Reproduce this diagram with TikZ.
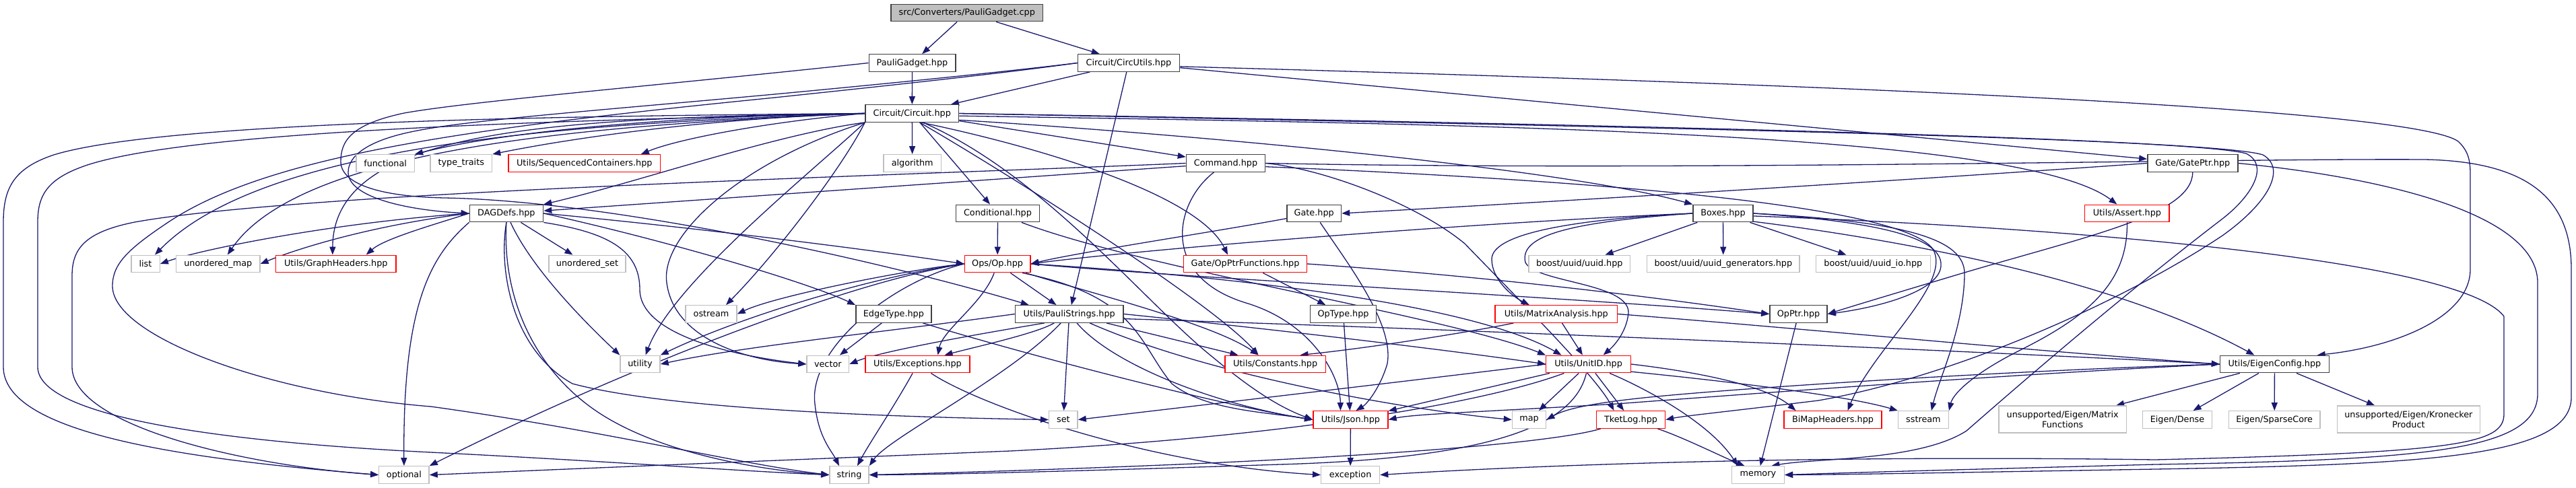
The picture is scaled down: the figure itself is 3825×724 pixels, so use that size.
\documentclass[tikz,border=0pt]{standalone}
\usepackage{fontspec}
\newfontfamily\nf{DejaVu Sans}
\usetikzlibrary{arrows.meta}
\definecolor{edgec}{HTML}{191970}
\definecolor{bdc}{HTML}{404040}
\definecolor{grc}{HTML}{BFBFBF}
\definecolor{rdc}{HTML}{FF0000}
\pgfdeclarelayer{edges}
\pgfsetlayers{edges,main}
\tikzset{
  nd/.style={draw=bdc, line width=1.4pt, fill=white, inner sep=0pt, minimum height=25.5pt,
    font=\nf\fontsize{12.8}{15}\selectfont, text=black, align=center},
  sys/.style={nd, draw=grc},
  trunc/.style={nd, draw=rdc},
  root/.style={nd, fill=grc},
  e/.style={draw=edgec, line width=1.3pt, -{Triangle[length=12pt,width=9pt]}},
}
\begin{document}
\begin{tikzpicture}[x=1pt,y=-1pt]
\useasboundingbox (0,0) rectangle (3825,724);
\node[root,minimum width=225.8pt] (cpp) at (1435.8,19) {src/Converters/PauliGadget.cpp};
\node[nd,minimum width=128.6pt] (pgh) at (1354.5,93.5) {PauliGadget.hpp};
\node[nd,minimum width=151.1pt] (cu) at (1676,93.5) {Circuit/CircUtils.hpp};
\node[nd,minimum width=138.8pt] (circ) at (1354.3,168.5) {Circuit/Circuit.hpp};
\node[sys,minimum width=86.6pt] (functional) at (572.1,242.5) {functional};
\node[sys,minimum width=91.6pt] (typetraits) at (684.8,242.5) {type\_traits};
\node[trunc,minimum width=225.4pt] (seqc) at (867.8,242.5) {Utils/SequencedContainers.hpp};
\node[sys,minimum width=85.8pt] (algorithm) at (1354.7,242.5) {algorithm};
\node[nd,minimum width=117.2pt] (cmd) at (1820,242.5) {Command.hpp};
\node[nd,minimum width=134pt] (gateptr) at (3255.8,242.5) {Gate/GatePtr.hpp};
\node[nd,minimum width=109.4pt] (dag) at (751.9,317) {DAGDefs.hpp};
\node[nd,minimum width=123.8pt] (cond) at (1481.5,317) {Conditional.hpp};
\node[nd,minimum width=80.6pt] (gate) at (1951.2,317) {Gate.hpp};
\node[nd,minimum width=89pt] (boxes) at (2558.5,317) {Boxes.hpp};
\node[trunc,minimum width=125.3pt] (assert) at (3158.4,317) {Utils/Assert.hpp};
\node[sys,minimum width=42.4pt] (list) at (216,392) {list};
\node[sys,minimum width=124.2pt] (umap) at (323.8,392) {unordered\_map};
\node[trunc,minimum width=178.4pt] (graphh) at (498.8,392) {Utils/GraphHeaders.hpp};
\node[sys,minimum width=114.3pt] (uset) at (872,392) {unordered\_set};
\node[trunc,minimum width=97.6pt] (op) at (1481.1,392) {Ops/Op.hpp};
\node[trunc,minimum width=182.7pt] (opptrf) at (1849,392) {Gate/OpPtrFunctions.hpp};
\node[sys,minimum width=150.7pt] (uuid) at (2345.3,392) {boost/uuid/uuid.hpp};
\node[sys,minimum width=226.5pt] (uuidgen) at (2558.8,392) {boost/uuid/uuid\_generators.hpp};
\node[sys,minimum width=169.8pt] (uuidio) at (2781.3,392) {boost/uuid/uuid\_io.hpp};
\node[sys,minimum width=76pt] (ostream) at (1056,466.5) {ostream};
\node[nd,minimum width=112.1pt] (edgetype) at (1326.9,466.5) {EdgeType.hpp};
\node[nd,minimum width=160.5pt] (paulis) at (1587.7,466.5) {Utils/PauliStrings.hpp};
\node[nd,minimum width=98.4pt] (optype) at (1994.5,466.5) {OpType.hpp};
\node[trunc,minimum width=181.3pt] (matrix) at (2310.8,466.5) {Utils/MatrixAnalysis.hpp};
\node[nd,minimum width=85.3pt] (opptr) at (2670.5,466.5) {OpPtr.hpp};
\node[sys,minimum width=59pt] (utility) at (950.5,541) {utility};
\node[sys,minimum width=62.6pt] (vector) at (1229.3,541) {vector};
\node[trunc,minimum width=155pt] (exc) at (1362.5,541) {Utils/Exceptions.hpp};
\node[trunc,minimum width=149.2pt] (const) at (1893.6,541) {Utils/Constants.hpp};
\node[trunc,minimum width=125.7pt] (unitid) at (2358.6,541) {Utils/UnitID.hpp};
\node[nd,minimum width=161.8pt] (eigen) at (3377.4,541) {Utils/EigenConfig.hpp};
\node[sys,minimum width=42.4pt] (set) at (1578.9,623.5) {set};
\node[trunc,minimum width=111.1pt] (json) at (2005.4,623.5) {Utils/Json.hpp};
\node[sys,minimum width=50.3pt] (map) at (2270.6,623.5) {map};
\node[trunc,minimum width=102.1pt] (tketlog) at (2421.5,623.5) {TketLog.hpp};
\node[trunc,minimum width=145pt] (bimap) at (2721.5,623.5) {BiMapHeaders.hpp};
\node[sys,minimum width=74.7pt] (sstream) at (2855.9,623.5) {sstream};
\node[sys,minimum width=189.5pt,minimum height=40pt] (matfun) at (3062.7,623) {unsupported/Eigen/Matrix\\Functions};
\node[sys,minimum width=103pt] (dense) at (3233,623.5) {Eigen/Dense};
\node[sys,minimum width=135.9pt] (sparse) at (3377.2,623.5) {Eigen/SparseCore};
\node[sys,minimum width=212.1pt,minimum height=40pt] (kron) at (3576.3,623) {unsupported/Eigen/Kronecker\\Product};
\node[sys,minimum width=74.3pt] (optional) at (599.9,705.5) {optional};
\node[sys,minimum width=58.2pt] (string) at (1261,705.5) {string};
\node[sys,minimum width=87pt] (exception) at (2005.1,705.5) {exception};
\node[sys,minimum width=78pt] (memory) at (2610.4,705.5) {memory};

\begin{pgfonlayer}{edges}
% top
\draw[e] (cpp) -- (pgh);
\draw[e] (cpp) -- (cu);
\draw[e] (pgh) -- (circ);
\draw[e] (cu) -- (circ);
\draw[e] (cu) -- (paulis);
\draw[e] (cu) -- (gateptr);
\draw[e] (cu.-4) .. controls (2700,125) and (3580,160) .. (3650,210) .. controls (3666,225) and (3668,240) .. (3668,260) -- (3668,400) .. controls (3668,470) and (3560,515) .. (eigen.12);
\draw[e] (pgh.west) .. controls (1000,125) and (700,150) .. (600,168) .. controls (520,185) and (506,210) .. (506,240) .. controls (506,272) and (560,292) .. (660,294) .. controls (900,298) and (1300,385) .. ([xshift=-60]paulis.north);
\draw[e] (cu.west) .. controls (1480,108) and (1320,124) .. (1150,140) .. controls (900,163) and (700,178) .. (620,194) .. controls (545,208) and (517,232) .. (517,256) .. controls (517,292) and (600,312) .. (dag.west);
\draw[e] (cu.west) .. controls (1480,110) and (1320,127) .. (1150,145) .. controls (700,190) and (400,230) .. (250,330) .. controls (190,370) and (167,392) .. (167,425) .. controls (167,500) and (400,585) .. (640,604) .. controls (900,640) and (1100,690) .. (string.west);
% circuit
\draw[e] (circ) -- (algorithm);
\draw[e] (circ) -- (cmd);
\draw[e] (circ) -- (cond);
\draw[e] (circ.west) .. controls (1000,172) and (750,195) .. (functional.north east);
\draw[e] (circ.west) .. controls (1050,176) and (850,205) .. (typetraits.north east);
\draw[e] (circ.west) .. controls (1150,180) and (1010,205) .. ([xshift=84]seqc.north);
\draw[e] (circ.south west) .. controls (1150,200) and (950,270) .. (dag.north east);
\draw[e] (circ.west) .. controls (900,182) and (400,205) .. ([xshift=14]list.north);
\draw[e] (circ.west) .. controls (900,185) and (450,215) .. ([xshift=14]umap.north);
\draw[e] (circ.west) .. controls (800,175) and (495,195) .. ([xshift=-5]graphh.north);
\draw[e] (circ.west) .. controls (900,172) and (250,178) .. (80,230) .. controls (20,250) and (5,280) .. (5,330) -- (5,545) .. controls (5,640) and (250,680) .. (optional.west);
\draw[e] (circ.west) .. controls (900,178) and (300,190) .. (130,245) .. controls (70,265) and (56,290) .. (56,330) -- (56,545) .. controls (56,615) and (300,655) .. (640,672) .. controls (900,685) and (1100,700) .. (string.west);
\draw[e] (circ.south west) .. controls (1200,260) and (1000,420) .. ([xshift=8]utility.north);
\draw[e] (circ.south west) .. controls (1250,250) and (1150,380) .. ([xshift=22]ostream.north);
\draw[e] (circ.south west) .. controls (1100,240) and (980,350) .. (990,420) .. controls (1000,500) and (1100,535) .. (vector.west);
\draw[e] (circ.-45) .. controls (1550,220) and (1780,290) .. ([xshift=-26]opptrf.north);
\draw[e] (circ.-50) .. controls (1500,260) and (1800,450) .. ([xshift=-25]const.north);
\draw[e] (circ.-40) .. controls (1550,260) and (1700,450) .. (1800,530) .. controls (1860,580) and (1900,605) .. (json.west);
\draw[e] (circ.-8) .. controls (1700,195) and (2300,245) .. (boxes.north west);
\draw[e] (circ.-3) .. controls (2200,185) and (3000,195) .. ([xshift=-15]assert.north);
\draw[e] (circ.east) .. controls (2400,185) and (3250,205) .. (3335,228) .. controls (3370,245) and (3345,290) .. (3300,325) .. controls (3150,440) and (3000,570) .. (2920,640) .. controls (2850,685) and (2700,680) .. ([xshift=20]memory.north);
\draw[e] (circ.east) .. controls (2400,188) and (3280,205) .. (3360,230) .. controls (3395,250) and (3370,300) .. (3300,350) .. controls (3150,450) and (2900,560) .. (2700,595) .. controls (2560,612) and (2500,618) .. (tketlog.east);
% command
\draw[e] (cmd) -- (dag);
\draw[e] (cmd.west) .. controls (1300,262) and (450,285) .. (200,330) .. controls (125,345) and (107,370) .. (107,410) -- (107,545) .. controls (107,630) and (350,690) .. (optional.west);
\draw[e] (cmd) .. controls (1745,300) and (1720,410) .. (1850,450) .. controls (1950,480) and (1990,560) .. ([xshift=-15]json.north);
\draw[e] (cmd.east) .. controls (1960,250) and (2100,300) .. (2175,362) .. controls (2260,450) and (2370,560) .. ([xshift=-25]tketlog.north);
\draw[e] (cmd.east) .. controls (2500,255) and (3300,235) .. (3600,237) .. controls (3760,240) and (3818,300) .. (3818,400) -- (3818,590) .. controls (3818,680) and (3600,690) .. (3200,697) .. controls (2900,702) and (2750,705) .. (memory.east);
\draw[e] (cmd.-5) .. controls (2300,265) and (2820,300) .. (2870,370) .. controls (2900,420) and (2780,520) .. ([xshift=22]bimap.north);
% conditional, gate, gateptr
\draw[e] (cond) -- (op);
\draw[e] (cond) .. controls (1700,400) and (2150,470) .. (unitid.north west);
\draw[e] (gate) .. controls (1800,345) and (1600,375) .. (op.east);
\draw[e] (gate) .. controls (2000,390) and (2070,480) .. (2060,540) .. controls (2050,575) and (2030,600) .. ([xshift=8]json.north);
\draw[e] (gateptr.west) .. controls (2800,270) and (2300,300) .. (gate.east);
\draw[e] (gateptr.south) .. controls (3255,320) and (3100,350) .. (2900,410) .. controls (2800,440) and (2750,455) .. (opptr.east);
\draw[e] (gateptr.east) .. controls (3550,265) and (3768,320) .. (3768,420) -- (3768,585) .. controls (3768,670) and (3600,683) .. (3200,690) .. controls (2900,698) and (2750,702) .. (memory.east);
% boxes
\draw[e] (boxes.west) .. controls (2200,330) and (1700,370) .. (op.east);
\draw[e] (boxes) -- (uuid);
\draw[e] (boxes) -- (uuidgen);
\draw[e] (boxes) -- (uuidio);
\draw[e] (boxes.west) .. controls (2350,325) and (2215,345) .. (2215,385) .. controls (2215,415) and (2245,440) .. ([xshift=-40]matrix.north);
\draw[e] (boxes.west) .. controls (2330,330) and (2255,350) .. (2265,390) .. controls (2280,420) and (2420,420) .. (2418,465) .. controls (2415,495) and (2395,515) .. ([xshift=22]unitid.north);
\draw[e] (boxes.east) .. controls (2800,330) and (2885,355) .. (2882,395) .. controls (2880,430) and (2800,455) .. (opptr.east);
\draw[e] (boxes.east) .. controls (2850,330) and (2920,360) .. (2917,410) .. controls (2915,490) and (2880,560) .. ([xshift=12]sstream.north);
\draw[e] (boxes.-15) .. controls (2850,360) and (3150,420) .. ([xshift=-30]eigen.north);
\draw[e] (boxes.-5) .. controls (3000,335) and (3650,380) .. (3718,470) -- (3718,615) .. controls (3718,660) and (3650,672) .. (3200,683) .. controls (2700,676) and (2300,690) .. (exception.east);
\draw[e] (assert.south) .. controls (3160,420) and (3100,470) .. (3000,520) .. controls (2930,555) and (2900,585) .. (sstream.north east);
% dag
\draw[e] (dag.west) .. controls (500,330) and (300,370) .. (list.east);
\draw[e] (dag.west) .. controls (550,335) and (440,370) .. (umap.east);
\draw[e] (dag.west) .. controls (640,335) and (570,355) .. ([xshift=45]graphh.north);
\draw[e] (dag) -- (uset);
\draw[e] (dag) .. controls (790,400) and (870,480) .. (utility.north west);
\draw[e] (dag.south east) .. controls (900,345) and (950,370) .. (950,430) .. controls (950,500) and (1100,530) .. (vector.west);
\draw[e] (dag.south) .. controls (740,400) and (760,520) .. (850,570) .. controls (1000,610) and (1350,620) .. (set.west);
\draw[e] (dag.south) .. controls (745,450) and (800,560) .. (900,620) .. controls (1000,680) and (1150,700) .. (string.west);
\draw[e] (dag.south west) .. controls (640,380) and (598,450) .. (optional.north);
\draw[e] (dag.east) .. controls (1000,360) and (1200,420) .. (edgetype.north west);
\draw[e] (dag.east) .. controls (1000,335) and (1250,365) .. (op.west);
\draw[e] (edgetype) -- (vector);
\draw[e] (edgetype) .. controls (1500,520) and (1800,600) .. (json.west);
% op
\draw[e] (op) -- (paulis);
\draw[e] (op) .. controls (1460,450) and (1400,490) .. ([xshift=30]exc.north);
\draw[e] (op.west) .. controls (1350,400) and (1150,440) .. (ostream.east);
\draw[e] (op.west) .. controls (1300,410) and (1100,470) .. (utility.north east);
\draw[e] (op.west) .. controls (1250,420) and (900,560) .. (optional.north east);
\draw[e] (op.west) .. controls (1320,420) and (1200,520) .. (1210,600) .. controls (1215,650) and (1235,670) .. ([xshift=-15]string.north);
\draw[e] (op) .. controls (1600,430) and (1800,480) .. ([xshift=-25]const.north);
\draw[e] (op.-20) .. controls (1690,440) and (1690,510) .. (1740,570) .. controls (1790,610) and (1880,612) .. (json.west);
\draw[e] (op.east) .. controls (1750,412) and (2300,440) .. (opptr.west);
\draw[e] (op.east) .. controls (1900,415) and (2200,460) .. ([xshift=-40]unitid.north);
% paulis
\draw[e] (paulis) .. controls (1540,495) and (1450,515) .. ([xshift=40]exc.north);
\draw[e] (paulis) -- (const);
\draw[e] (paulis) -- (set);
\draw[e] (paulis) .. controls (1500,560) and (1320,650) .. (string.north east);
\draw[e] (paulis) .. controls (1650,540) and (1800,600) .. (json.west);
\draw[e] (paulis.west) .. controls (1300,495) and (1100,515) .. (utility.east);
\draw[e] (paulis.200) .. controls (1400,505) and (1300,525) .. (vector.east);
\draw[e] (paulis) .. controls (1800,560) and (2100,610) .. (map.west);
\draw[e] (paulis.east) .. controls (1900,490) and (2150,520) .. (unitid.west);
\draw[e] (paulis.-5) .. controls (2200,490) and (3000,525) .. (eigen.west);
% misc
\draw[e] (exc) .. controls (1330,600) and (1290,660) .. ([xshift=12]string.north);
\draw[e] (exc) .. controls (1450,600) and (1700,690) .. (exception.west);
\draw[e] (optype) -- (json);
\draw[e] (opptrf) -- (optype);
\draw[e] (opptrf.east) .. controls (2200,410) and (2450,440) .. (opptr.west);
\draw[e] (opptr) -- (memory);
\draw[e] (matrix) .. controls (2200,490) and (2050,515) .. (const.20);
\draw[e] (matrix) -- (unitid);
\draw[e] (matrix.east) .. controls (2700,490) and (3000,520) .. (eigen.west);
% unitid
\draw[e] (unitid) -- (json);
\draw[e] (unitid) -- (map);
\draw[e] (unitid) -- (tketlog);
\draw[e] (unitid.east) .. controls (2500,550) and (2620,570) .. ([xshift=-55]bimap.north);
\draw[e] (unitid) .. controls (2450,580) and (2540,630) .. ([xshift=-30]memory.north);
\draw[e] (unitid.-10) .. controls (2600,570) and (2750,590) .. (sstream.north west);
\draw[e] (unitid) .. controls (2340,620) and (2250,680) .. (1900,690) .. controls (1600,700) and (1400,705) .. (string.east);
\draw[e] (unitid) .. controls (2200,600) and (1900,650) .. (1500,670) .. controls (1000,690) and (700,703) .. (optional.east);
\draw[e] (unitid.west) .. controls (2100,565) and (1800,600) .. (set.east);
% tketlog, json
\draw[e] (tketlog) .. controls (2300,660) and (2000,680) .. (1700,692) .. controls (1500,700) and (1350,704) .. (string.east);
\draw[e] (tketlog) .. controls (2500,650) and (2560,680) .. ([xshift=-20]memory.north);
\draw[e] (json) -- (exception);
% eigen
\draw[e] (eigen) -- (matfun);
\draw[e] (eigen) -- (dense);
\draw[e] (eigen) -- (sparse);
\draw[e] (eigen) -- (kron);
\draw[e] (eigen.west) .. controls (3000,555) and (2600,585) .. (2400,600) .. controls (2200,612) and (2100,615) .. (json.east);
\draw[e] (eigen.west) .. controls (3000,550) and (2600,575) .. (2450,590) .. controls (2350,600) and (2320,610) .. (map.east);
\end{pgfonlayer}
\end{tikzpicture}
\end{document}
